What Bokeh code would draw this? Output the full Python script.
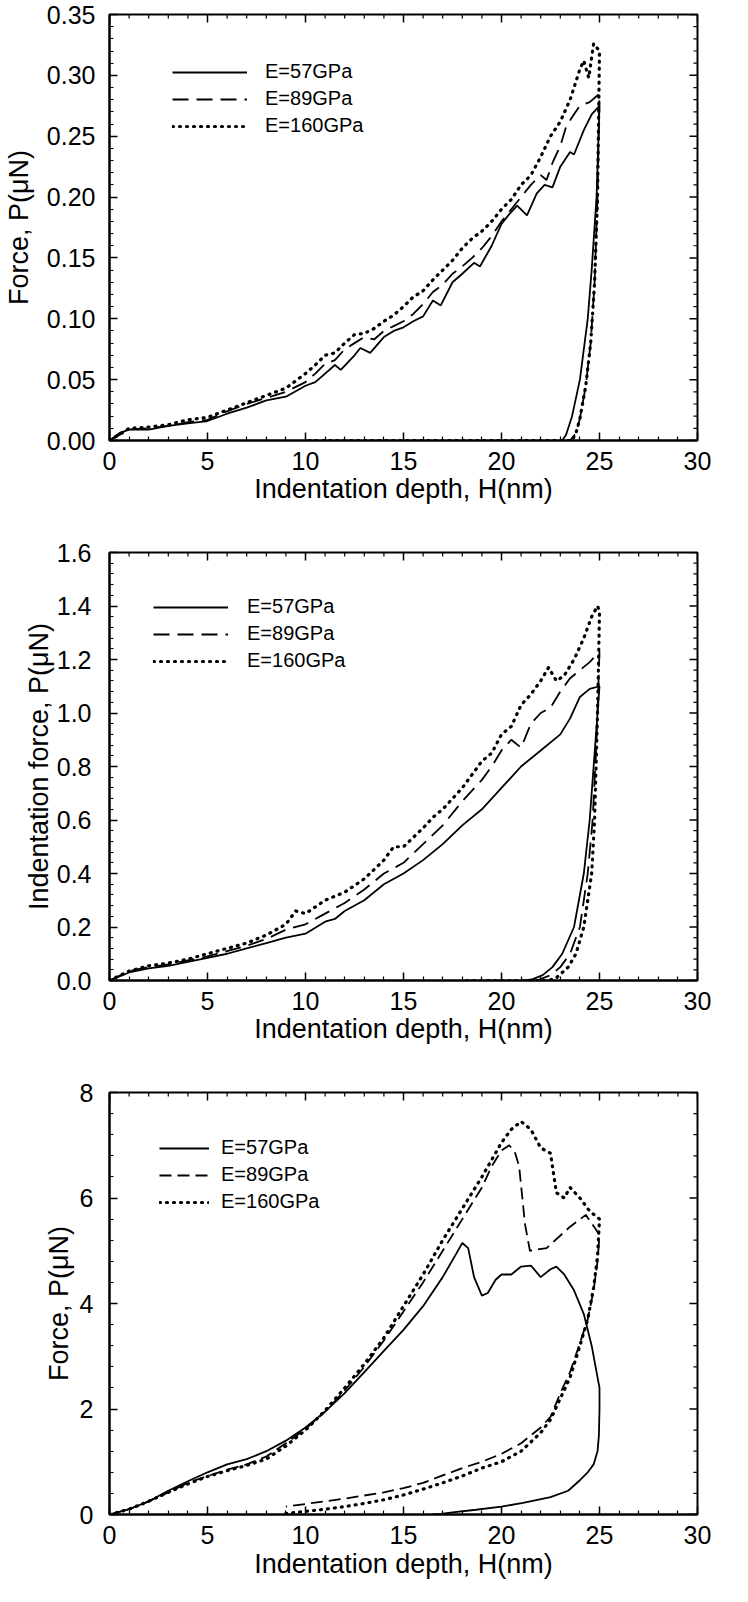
import math
from bokeh.plotting import figure
from bokeh.models import (LinearAxis, FixedTicker, PrintfTickFormatter,
                          Range1d, Legend, LegendItem)
from bokeh.layouts import column
from bokeh.embed import file_html
from bokeh.resources import INLINE

FONT = "Liberation Sans"
X_TITLE = "Indentation depth, H(nm)"
SERIES_NAMES = ["E=57GPa", "E=89GPa", "E=160GPa"]
Y_TITLES = ["Force, P(\u03bcN)", "Indentation force, P(\u03bcN)", "Force, P(\u03bcN)"]

X_TICKS = [0, 5, 10, 15, 20, 25, 30]
Y_TICKS_1 = [0.0, 0.05, 0.10, 0.15, 0.20, 0.25, 0.30, 0.35]
Y_TICKS_2 = [0.0, 0.2, 0.4, 0.6, 0.8, 1.0, 1.2, 1.4, 1.6]
Y_TICKS_3 = [0, 2, 4, 6, 8]

# ---------------- Panel 1 (top) ----------------
P1_H_57 = [0, 0.5, 1, 2, 3, 4, 5, 6, 7, 8, 9, 10, 10.5, 11, 11.5, 11.8, 12.5, 12.8, 13.3, 14,
           14.5, 15, 15.5, 16, 16.5, 16.9, 17.5, 18, 18.6, 18.9, 19.5, 20, 20.4, 20.8, 21.3,
           21.8, 22.2, 22.6, 23, 23.5, 23.7, 24.2, 24.6, 25,
           24.85, 24.6, 24.4, 24.0, 23.6, 23.3, 23.1]
P1_P_57 = [0, 0.006, 0.009, 0.009, 0.012, 0.014, 0.016, 0.022, 0.027, 0.033, 0.036, 0.045,
           0.048, 0.055, 0.062, 0.058, 0.070, 0.076, 0.072, 0.085, 0.090, 0.093, 0.098, 0.102,
           0.115, 0.111, 0.130, 0.137, 0.146, 0.143, 0.160, 0.178, 0.186, 0.193, 0.185, 0.203,
           0.210, 0.208, 0.225, 0.237, 0.235, 0.255, 0.268, 0.275,
           0.20, 0.14, 0.10, 0.05, 0.02, 0.005, 0.0]
P1_H_89 = [0, 1, 2, 3, 4, 5, 6, 7, 8, 9, 10, 10.5, 11, 11.5, 12, 12.5, 13, 13.5, 14, 14.5, 15,
           15.5, 16, 16.5, 17, 17.5, 18, 18.5, 19, 19.5, 20, 20.5, 21, 21.5, 22, 22.3, 22.6, 23,
           23.3, 23.7, 24, 24.5, 25,
           24.9, 24.75, 24.55, 24.3, 24.0, 23.8, 23.5]
P1_P_89 = [0, 0.009, 0.010, 0.012, 0.015, 0.017, 0.024, 0.030, 0.035, 0.040, 0.048, 0.055,
           0.063, 0.066, 0.075, 0.080, 0.085, 0.083, 0.090, 0.094, 0.098, 0.104, 0.112, 0.122,
           0.128, 0.137, 0.143, 0.150, 0.158, 0.168, 0.180, 0.190, 0.200, 0.210, 0.218, 0.214,
           0.228, 0.242, 0.258, 0.268, 0.275, 0.278, 0.285,
           0.20, 0.13, 0.08, 0.045, 0.018, 0.006, 0.0]
P1_H_160 = [0, 1, 2, 3, 4, 5, 6, 7, 8, 9, 10, 10.5, 11, 11.5, 12, 12.5, 13, 13.5, 14, 14.5, 15,
            15.5, 16, 16.5, 17, 17.5, 18, 18.5, 19, 19.5, 20, 20.5, 21, 21.5, 22, 22.5, 23,
            23.5, 24, 24.2, 24.45, 24.7, 25,
            24.9, 24.75, 24.55, 24.3, 24.0, 23.8, 23.6, 10]
P1_P_160 = [0, 0.010, 0.011, 0.013, 0.017, 0.019, 0.025, 0.031, 0.037, 0.043, 0.055, 0.062,
            0.070, 0.072, 0.080, 0.087, 0.088, 0.092, 0.098, 0.103, 0.110, 0.118, 0.123, 0.132,
            0.140, 0.148, 0.158, 0.166, 0.172, 0.180, 0.190, 0.198, 0.210, 0.218, 0.233, 0.250,
            0.262, 0.280, 0.305, 0.312, 0.298, 0.326, 0.320,
            0.20, 0.13, 0.08, 0.045, 0.018, 0.006, 0.0, 0.0]

# ---------------- Panel 2 (middle) ----------------
P2_H_57 = [0, 1, 2, 3, 4, 5, 6, 7, 8, 9, 10, 11, 11.5, 12, 13, 14, 15, 16, 17, 18, 19, 20, 21,
           22, 23, 23.5, 24, 24.5, 25,
           24.8, 24.5, 24.2, 23.7, 23.1, 22.6, 22.1, 21.6, 21.2]
P2_P_57 = [0, 0.03, 0.045, 0.055, 0.07, 0.085, 0.10, 0.12, 0.14, 0.16, 0.175, 0.22, 0.23, 0.26,
           0.30, 0.36, 0.40, 0.45, 0.51, 0.58, 0.64, 0.72, 0.80, 0.86, 0.92, 0.98, 1.06, 1.09, 1.10,
           0.90, 0.60, 0.40, 0.20, 0.10, 0.05, 0.02, 0.005, 0.0]
P2_H_89 = [0, 1, 2, 3, 4, 5, 6, 7, 8, 9, 10, 11, 12, 13, 14, 15, 16, 17, 18, 19, 19.5, 20, 20.5,
           21, 21.5, 22, 22.5, 23, 23.5, 24, 24.5, 25,
           24.85, 24.65, 24.4, 24.0, 23.5, 23.0, 22.5, 21.8]
P2_P_89 = [0, 0.035, 0.05, 0.06, 0.075, 0.09, 0.11, 0.13, 0.155, 0.19, 0.21, 0.25, 0.29, 0.34,
           0.40, 0.44, 0.51, 0.58, 0.67, 0.75, 0.80, 0.86, 0.90, 0.87, 0.96, 1.00, 1.02, 1.08,
           1.13, 1.16, 1.19, 1.23,
           0.90, 0.60, 0.40, 0.20, 0.10, 0.05, 0.02, 0.0]
P2_H_160 = [0, 1, 2, 3, 4, 5, 6, 7, 8, 9, 9.5, 10, 11, 12, 13, 14, 14.5, 15, 16, 16.5, 17, 18,
            19, 19.5, 20, 20.5, 21, 21.5, 22, 22.4, 22.8, 23.2, 23.7, 24.2, 24.6, 24.9, 25,
            24.9, 24.75, 24.6, 24.2, 23.8, 23.4, 22.8, 22.4, 18]
P2_P_160 = [0, 0.035, 0.055, 0.065, 0.08, 0.10, 0.12, 0.14, 0.17, 0.21, 0.26, 0.25, 0.30, 0.33,
            0.38, 0.45, 0.50, 0.50, 0.57, 0.61, 0.64, 0.72, 0.82, 0.85, 0.92, 0.95, 1.03, 1.07,
            1.12, 1.17, 1.12, 1.14, 1.20, 1.28, 1.36, 1.40, 1.38,
            1.00, 0.60, 0.40, 0.20, 0.10, 0.05, 0.01, 0.0, 0.0]

# ---------------- Panel 3 (bottom) ----------------
P3_H_57 = [0, 1, 2, 3, 4, 5, 6, 7, 8, 9, 10, 11, 12, 13, 14, 15, 16, 17, 17.7, 18, 18.3, 18.6,
           19, 19.3, 19.7, 20, 20.5, 21, 21.5, 22, 22.5, 22.8, 23.2, 23.7, 24.2, 24.6, 24.9, 25,
           25, 24.97, 24.9, 24.7, 24.4, 24, 23.4, 22.5, 21.1, 20, 18.7, 17.5, 16.9, 16.5]
P3_P_57 = [0, 0.1, 0.25, 0.45, 0.63, 0.8, 0.95, 1.05, 1.2, 1.4, 1.65, 1.95, 2.3, 2.7, 3.1, 3.5,
           3.95, 4.5, 4.95, 5.15, 5.05, 4.5, 4.15, 4.2, 4.45, 4.55, 4.55, 4.7, 4.72, 4.5, 4.65,
           4.7, 4.55, 4.25, 3.8, 3.2, 2.6, 2.4,
           2.0, 1.5, 1.2, 0.95, 0.8, 0.65, 0.45, 0.33, 0.22, 0.15, 0.09, 0.04, 0.01, 0.0]
P3_H_89 = [0, 1, 2, 3, 4, 5, 6, 7, 8, 9, 10, 11, 12, 13, 14, 15, 16, 17, 18, 19, 19.5, 20, 20.4,
           20.7, 20.9, 21.2, 21.45, 22.3, 23.45, 24.3, 24.75, 25,
           24.9, 24.7, 24.4, 24, 23.5, 23, 22.5, 22, 21, 20, 19, 18, 17, 16, 15, 14, 13, 12, 11,
           10, 9]
P3_P_89 = [0, 0.1, 0.25, 0.42, 0.6, 0.73, 0.85, 0.95, 1.1, 1.35, 1.62, 1.95, 2.35, 2.8, 3.3,
           3.85, 4.4, 5.0, 5.6, 6.2, 6.6, 6.9, 7.0, 6.85, 6.6, 5.5, 5.0, 5.05, 5.44, 5.68, 5.44, 5.3,
           4.8, 4.25, 3.7, 3.25, 2.7, 2.3, 1.85, 1.65, 1.35, 1.15, 1.0, 0.88, 0.74, 0.6, 0.5, 0.42,
           0.36, 0.3, 0.25, 0.2, 0.15]
P3_H_160 = [0, 1, 2, 3, 4, 5, 6, 7, 8, 9, 10, 11, 12, 13, 14, 15, 16, 17, 18, 19, 20, 20.5, 21,
            21.5, 22, 22.5, 22.8, 23.2, 23.5, 24, 24.5, 25,
            24.9, 24.7, 24.4, 24, 23.5, 23, 22.5, 22, 21, 20, 19, 18, 17, 16, 15, 14, 13, 12,
            11, 10, 9]
P3_P_160 = [0, 0.1, 0.25, 0.42, 0.58, 0.72, 0.83, 0.93, 1.05, 1.3, 1.6, 1.97, 2.4, 2.85, 3.35,
            3.95, 4.55, 5.2, 5.8, 6.4, 7.05, 7.3, 7.45, 7.3, 6.95, 6.85, 6.1, 6.0, 6.2, 6.0, 5.75,
            5.6,
            4.9, 4.3, 3.7, 3.2, 2.6, 2.2, 1.8, 1.55, 1.2, 1.0, 0.88, 0.73, 0.6, 0.48, 0.37, 0.28,
            0.21, 0.15, 0.1, 0.06, 0.02]

PANELS = [
    dict(series=[(P1_H_57, P1_P_57), (P1_H_89, P1_P_89), (P1_H_160, P1_P_160)],
         y_ticks=Y_TICKS_1, y_fmt="%.2f", y_title=Y_TITLES[0],
         size=(732, 522), border=(106, 10, 14, 82), ylab_standoff=14, ytitle_standoff=10,
         xtitle_standoff=1,
         legend_loc=(63, 303), glyph_w=75, lab_standoff=18, dash="16 8"),
    dict(series=[(P2_H_57, P2_P_57), (P2_H_89, P2_P_89), (P2_H_160, P2_P_160)],
         y_ticks=Y_TICKS_2, y_fmt="%.1f", y_title=Y_TITLES[1],
         size=(732, 540), border=(96, 17, 30, 82), ylab_standoff=18, ytitle_standoff=0,
         xtitle_standoff=1,
         legend_loc=(44, 308), glyph_w=75, lab_standoff=19, dash="16 8"),
    dict(series=[(P3_H_57, P3_P_57), (P3_H_89, P3_P_89), (P3_H_160, P3_P_160)],
         y_ticks=Y_TICKS_3, y_fmt="%d", y_title=Y_TITLES[2],
         size=(732, 524), border=(90, 35, 30, 72), ylab_standoff=16, ytitle_standoff=3,
         xtitle_standoff=2,
         legend_loc=(50, 301), glyph_w=50, lab_standoff=12, dash="12 6"),
]


def minor_of(ticks, n=5):
    out = []
    for a, b in zip(ticks[:-1], ticks[1:]):
        for k in range(1, n):
            out.append(a + (b - a) * k / n)
    return out


def style_axis(ax):
    ax.major_tick_in = 8
    ax.major_tick_out = 0
    ax.minor_tick_in = 4
    ax.minor_tick_out = 0
    ax.axis_line_color = "black"
    ax.axis_line_width = 2
    ax.major_tick_line_color = "black"
    ax.major_tick_line_width = 1.5
    ax.minor_tick_line_color = "black"
    ax.minor_tick_line_width = 1.2
    ax.major_label_text_font = FONT
    ax.major_label_text_color = "black"
    ax.major_label_text_font_size = "25px"
    ax.axis_label_text_font = FONT
    ax.axis_label_text_font_style = "normal"
    ax.axis_label_text_color = "black"
    ax.axis_label_text_font_size = "27px"


def make_panel(cfg):
    w, h = cfg["size"]
    left, right, top, bottom = cfg["border"]
    y_ticks = cfg["y_ticks"]
    y_max = y_ticks[-1]
    x_max = X_TICKS[-1]
    p = figure(width=w, height=h, x_range=Range1d(0, x_max), y_range=Range1d(0, y_max),
               output_backend="svg", toolbar_location=None,
               x_axis_type=None, y_axis_type=None,
               min_border_left=left, min_border_right=right,
               min_border_top=top, min_border_bottom=bottom)
    p.outline_line_color = "black"
    p.outline_line_width = 2
    p.background_fill_color = "white"
    p.border_fill_color = "white"

    x_minor = minor_of(X_TICKS)
    y_minor = minor_of(y_ticks)
    xt = FixedTicker(ticks=X_TICKS, minor_ticks=x_minor)
    yt = FixedTicker(ticks=y_ticks, minor_ticks=y_minor)

    bx = LinearAxis(ticker=xt, formatter=PrintfTickFormatter(format="%d"), axis_label=X_TITLE)
    style_axis(bx)
    bx.major_label_standoff = 11
    bx.axis_label_standoff = cfg["xtitle_standoff"]
    p.add_layout(bx, "below")

    ly = LinearAxis(ticker=yt, formatter=PrintfTickFormatter(format=cfg["y_fmt"]),
                    axis_label=cfg["y_title"])
    style_axis(ly)
    ly.major_label_standoff = cfg["ylab_standoff"]
    ly.axis_label_standoff = cfg["ytitle_standoff"]
    p.add_layout(ly, "left")

    # inward ticks mirrored on the top and right frame edges
    p.ray(x=X_TICKS, y=y_max, length=8, length_units="screen", angle=-math.pi / 2,
          line_color="black", line_width=1.5)
    p.ray(x=x_minor, y=y_max, length=4, length_units="screen", angle=-math.pi / 2,
          line_color="black", line_width=1.2)
    p.ray(x=x_max, y=y_ticks, length=8, length_units="screen", angle=math.pi,
          line_color="black", line_width=1.5)
    p.ray(x=x_max, y=y_minor, length=4, length_units="screen", angle=math.pi,
          line_color="black", line_width=1.2)

    styles = [dict(line_dash="solid", line_width=1.8),
              dict(line_dash=cfg["dash"], line_width=1.8),
              dict(line_dash="1 6", line_width=3.2, line_cap="round")]
    renderers = []
    for (hx, py), st in zip(cfg["series"], styles):
        r = p.line(hx, py, line_color="black", **st)
        renderers.append(r)

    items = [LegendItem(label=n, renderers=[r]) for n, r in zip(SERIES_NAMES, renderers)]
    leg = Legend(items=items, location=cfg["legend_loc"], orientation="vertical",
                 border_line_color=None, background_fill_alpha=0, padding=0, margin=0,
                 spacing=4, glyph_width=cfg["glyph_w"], glyph_height=20, label_height=20,
                 label_standoff=cfg["lab_standoff"], label_text_font=FONT,
                 label_text_font_size="20px", label_text_color="black")
    p.add_layout(leg)
    return p


figs = [make_panel(c) for c in PANELS]
layout = column(*figs, spacing=0)
open("out.html", "w").write(file_html(layout, INLINE))
